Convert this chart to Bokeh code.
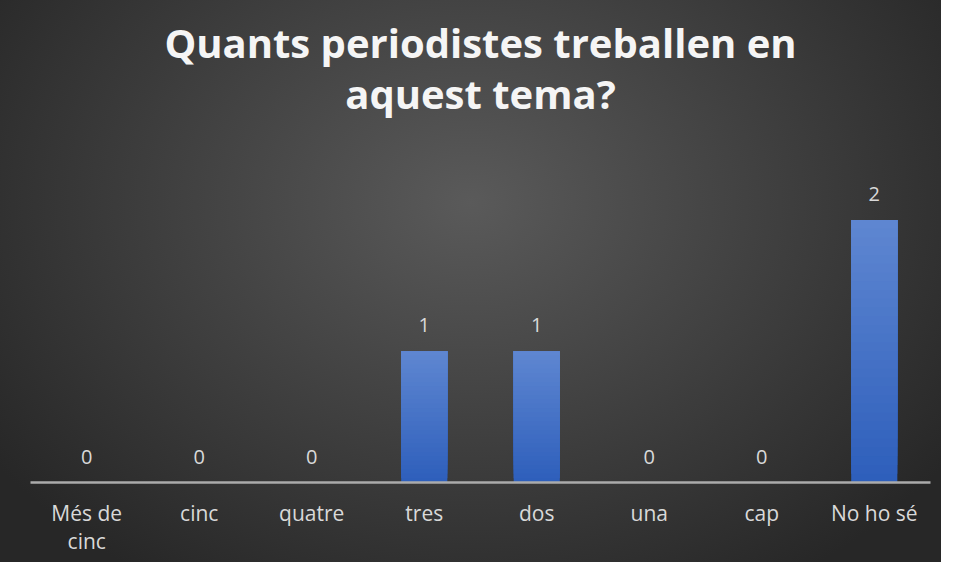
from bokeh.plotting import figure
from bokeh.models import FactorRange, Range1d, ColumnDataSource, CategoricalAxis
from bokeh.core.properties import value
from bokeh.embed import file_html
from bokeh.resources import INLINE

title_lines = ["Quants periodistes treballen en", "aquest tema?"]
categories = ["Més de cinc", "cinc", "quatre", "tres", "dos", "una", "cap", "No ho sé"]
category_labels = ["Més de\ncinc", "cinc", "quatre", "tres", "dos", "una", "cap", "No ho sé"]
counts = [0, 0, 0, 1, 1, 0, 0, 2]

W, H = 941, 562
p = figure(width=W, height=H, output_backend="svg", toolbar_location=None,
           x_range=FactorRange(*category_labels, range_padding=0),
           y_range=Range1d(0, 2.4), title=None,
           min_border_left=30, min_border_right=11,
           min_border_bottom=80, min_border_top=167)

p.styles = {"background": "radial-gradient(ellipse 62% 80% at 50% 36%, #5a5a5a 0%, #3e3e3e 55%, #272727 100%)"}
p.background_fill_alpha = 0
p.border_fill_alpha = 0
p.outline_line_color = None

p.yaxis.visible = False
p.xgrid.visible = False
p.ygrid.visible = False

# category axis (below)
ax = p.below[0]
ax.axis_line_color = "#ababab"
ax.axis_line_width = 2.5
ax.major_tick_line_color = None
ax.minor_tick_line_color = None
ax.major_label_text_font = "Open Sans"
ax.major_label_text_font_size = "21px"
ax.major_label_text_color = "#d9d9d9"
ax.major_label_standoff = 10
ax.major_label_text_line_height = 1.0

# title drawn as a centred, two-line label of an axis above the frame
title_factor = "\n".join(title_lines)
p.extra_x_ranges = {"title": FactorRange(title_factor, range_padding=0)}
tax = CategoricalAxis(x_range_name="title")
tax.axis_line_color = None
tax.major_tick_line_color = None
tax.minor_tick_line_color = None
tax.major_label_standoff = 41
tax.major_label_text_font = "Open Sans"
tax.major_label_text_font_style = "bold"
tax.major_label_text_font_size = "40px"
tax.major_label_text_color = "#f5f5f5"
tax.major_label_text_line_height = 0.92
p.add_layout(tax, "above")

# gradient bars
top_c = (0x5e, 0x86, 0xd1)
bot_c = (0x2e, 0x5f, 0xbb)
N = 30
for k in range(N):
    t = k / (N - 1)
    col = "#%02x%02x%02x" % tuple(int(round(b + (a - b) * t)) for a, b in zip(top_c, bot_c))
    src = ColumnDataSource(dict(x=category_labels, top=counts,
                                bottom=[v * k / N for v in counts]))
    p.vbar(x="x", top="top", bottom="bottom", width=0.41, source=src,
           fill_color=col, line_color=None)

p.text(x=category_labels, y=counts, text=[str(v) for v in counts],
       text_align="center", text_baseline="alphabetic", y_offset=-26,
       text_font=value("Open Sans"), text_font_size="20px", text_color="#d9d9d9")

open("out.html", "w").write(file_html(p, INLINE))
